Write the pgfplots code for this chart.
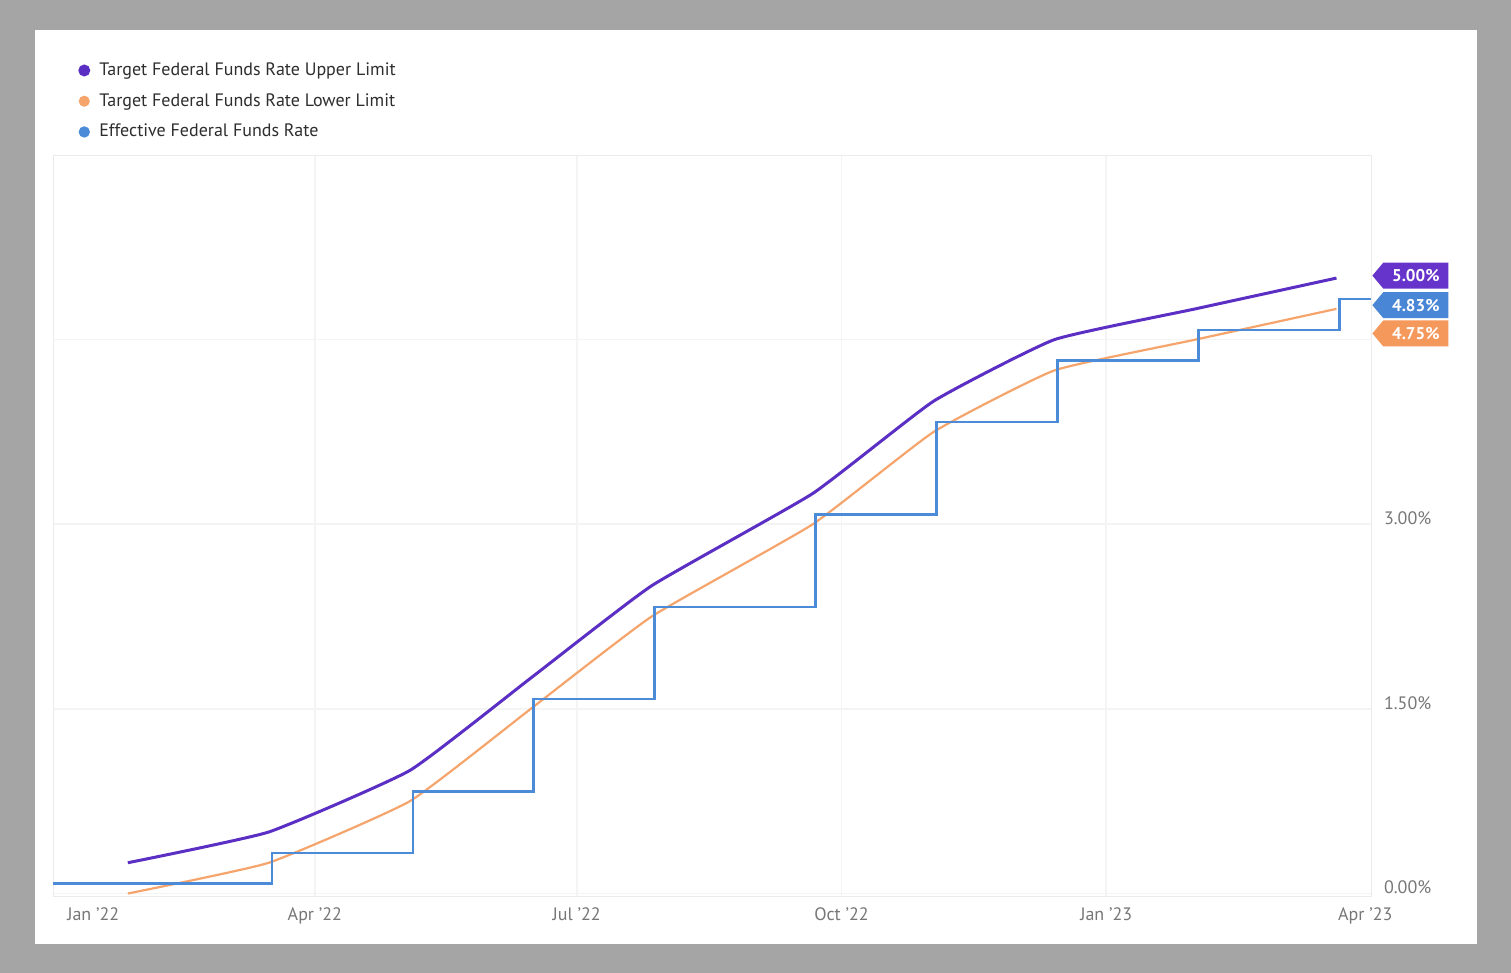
\documentclass[border=0pt]{standalone}
\usepackage{fontspec}
\setmainfont{PT Sans}
\usepackage{pgfplots}
\pgfplotsset{compat=1.18}
\usepackage{pgfplotstable}
\usetikzlibrary{shapes.symbols}

\definecolor{frame}{HTML}{A5A5A5}
\definecolor{upper}{HTML}{5B2EC4}
\definecolor{lower}{HTML}{F5A56C}
\definecolor{effr}{HTML}{4C8BD7}
\definecolor{uppertag}{HTML}{6634CA}
\definecolor{lowertag}{HTML}{F5985C}
\definecolor{effrtag}{HTML}{4A86D6}
\definecolor{gridc}{HTML}{F4F4F4}
\definecolor{ticktext}{HTML}{777777}

% days counted from 1 Jan 2022; FOMC decision dates
\pgfplotstableread{
day upper lower
25  0.25 0.00
74  0.50 0.25
123 1.00 0.75
165 1.75 1.50
207 2.50 2.25
263 3.25 3.00
305 4.00 3.75
347 4.50 4.25
396 4.75 4.50
445 5.00 4.75
}\targets

\pgfplotstableread{
day effr
-1  0.08
75  0.33
124 0.83
166 1.58
208 2.33
264 3.08
306 3.83
348 4.33
397 4.58
446 4.83
457 4.83
}\effective

\begin{document}
\begin{tikzpicture}
% outer frame and white card (1px = 0.5pt)
\fill[frame] (0pt,0pt) rectangle (755.5pt,486.5pt);
\fill[white] (17.5pt,14.5pt) rectangle (738.5pt,471.5pt);

\begin{axis}[
    at={(26.5pt,38.5pt)}, anchor=south west,
    scale only axis,
    width=659pt, height=370.5pt,
    xmin=-1, xmax=457,
    ymin=-0.02, ymax=6.0,
    clip=false,
    axis line style={draw=black!8},
    major tick length=0pt,
    xtick={90,181,273,365},
    xticklabels={Apr '22,Jul '22,Oct '22,Jan '23},
    extra x ticks={13,455},
    extra x tick labels={Jan '22,Apr '23},
    extra x tick style={grid=none},
    ytick={0,1.5,3,4.5},
    yticklabels={0.00\%,1.50\%,3.00\%,},
    ymajorgrids, xmajorgrids,
    grid style={draw=gridc, line width=0.8pt},
    yticklabel pos=right,
    tick label style={font=\fontsize{9}{10}\selectfont, text=ticktext},
    xticklabel style={yshift=-2.5pt},
    yticklabel style={xshift=3pt, yshift=3pt},
    legend style={at={(axis description cs:0.0144,1.136)}, anchor=north west,
        draw=none, fill=none, font=\fontsize{9}{10}\selectfont,
        text=black!82, row sep=3.5pt},
    legend cell align=left,
    legend image code/.code={\fill (0pt,0pt) circle (2.2pt); \path[draw=none] (-2.2pt,0pt) -- (5.5pt,0pt);},
]
\addplot[color=upper, line width=1.5pt, smooth, tension=0.25] table[x=day, y=upper] {\targets};
\addlegendentry{Target Federal Funds Rate Upper Limit}
\addplot[color=lower, line width=1.1pt, smooth, tension=0.25] table[x=day, y=lower] {\targets};
\addlegendentry{Target Federal Funds Rate Lower Limit}
\addplot[color=effr, line width=1.2pt, const plot mark left] table[x=day, y=effr] {\effective};
\addlegendentry{Effective Federal Funds Rate}

\tikzset{tag/.style={signal, signal to=west, signal pointer angle=100,
    minimum width=38pt, minimum height=13pt, inner sep=1pt, anchor=west,
    text=white, font=\fontsize{8.5}{9}\selectfont\bfseries}}
\node[tag, fill=uppertag] at (axis cs:457.3,5.02) {5.00\%};
\node[tag, fill=effrtag] at (axis cs:457.3,4.78) {4.83\%};
\node[tag, fill=lowertag] at (axis cs:457.3,4.55) {4.75\%};
\end{axis}
\end{tikzpicture}
\end{document}
